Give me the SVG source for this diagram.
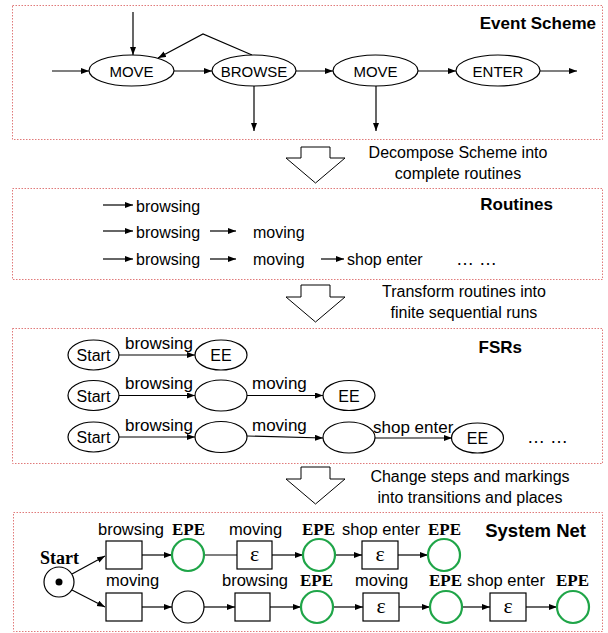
<svg xmlns="http://www.w3.org/2000/svg" width="608" height="633" viewBox="0 0 608 633">
  <defs>
    <marker id="ah" markerWidth="9" markerHeight="7" refX="8" refY="3" orient="auto" markerUnits="userSpaceOnUse">
      <path d="M0,0 L8,3 L0,6 z" fill="#000"/>
    </marker>
    <style>
      .frame { fill: none; stroke: #e07a7a; stroke-width: 1; stroke-dasharray: 1.5 1.5; }
      .node { fill: #fff; stroke: #000; stroke-width: 1.2; }
      .epe { fill: #fff; stroke: #1fa548; stroke-width: 2.2; }
      .edge { fill: none; stroke: #000; stroke-width: 1.2; marker-end: url(#ah); }
      .plain { fill: none; stroke: #000; stroke-width: 1.2; }
      .big { fill: #fff; stroke: #000; stroke-width: 1; }
      text { font-family: "Liberation Sans", Arial, sans-serif; fill: #000; }
      .title { font-size: 17px; font-weight: bold; text-anchor: end; }
      .lbl { font-size: 15px; text-anchor: middle; }
      .rt { font-size: 16px; }
      .fs { font-size: 17px; }
      .st { font-size: 16px; text-anchor: middle; }
      .sn { font-size: 16.5px; }
      .cap { font-size: 16px; text-anchor: middle; }
      .serif { font-family: "Liberation Serif", "Times New Roman", serif; font-weight: bold; font-size: 17px; }
      .eps { font-family: "Liberation Serif", "Times New Roman", serif; font-size: 22px; text-anchor: middle; }
    </style>
  </defs>

  <!-- section frames -->
  <rect class="frame" x="12.5" y="5.5" width="590" height="134"/>
  <rect class="frame" x="12.5" y="188.5" width="590" height="91"/>
  <rect class="frame" x="12.5" y="328.5" width="590" height="135"/>
  <rect class="frame" x="13.5" y="512.5" width="589" height="119"/>

  <!-- block arrows between sections -->
  <g id="step-arrows">
    <path class="big" d="M301,147 H330 V158 H345 L315.5,183 L286,158 H301 Z"/>
    <path class="big" d="M301,285 H330 V297 H345 L315.5,322 L286,297 H301 Z"/>
    <path class="big" d="M301,467 H330 V479 H345 L315.5,504 L286,479 H301 Z"/>
    <text class="cap" x="458" y="158">Decompose Scheme into</text>
    <text class="cap" x="458" y="179">complete routines</text>
    <text class="cap" x="464" y="297">Transform routines into</text>
    <text class="cap" x="464" y="318">finite sequential runs</text>
    <text class="cap" x="470" y="482">Change steps and markings</text>
    <text class="cap" x="470" y="503">into transitions and places</text>
  </g>

  <!-- Event Scheme -->
  <text class="title" x="596" y="29">Event Scheme</text>
  <g id="connectors-scheme">
    <line class="edge" x1="133" y1="12" x2="133" y2="55"/>
    <line class="edge" x1="52" y1="71" x2="89" y2="71"/>
    <line class="edge" x1="174" y1="71" x2="212" y2="71"/>
    <line class="edge" x1="296" y1="71" x2="333" y2="71"/>
    <line class="edge" x1="418" y1="71" x2="456" y2="71"/>
    <line class="edge" x1="540" y1="71" x2="577" y2="71"/>
    <polyline class="edge" points="252,55 203,34 158,58"/>
    <line class="edge" x1="254" y1="86" x2="254" y2="131"/>
    <line class="edge" x1="376" y1="86" x2="376" y2="131"/>
  </g>
  <g id="ev-move1"><ellipse class="node" cx="131.5" cy="70.5" rx="42.5" ry="15.5"/><text class="lbl" x="131.5" y="76.5">MOVE</text></g>
  <g id="ev-browse"><ellipse class="node" cx="254" cy="70.5" rx="42" ry="15.5"/><text class="lbl" x="254" y="76.5">BROWSE</text></g>
  <g id="ev-move2"><ellipse class="node" cx="375.5" cy="70.5" rx="42.5" ry="15.5"/><text class="lbl" x="375.5" y="76.5">MOVE</text></g>
  <g id="ev-enter"><ellipse class="node" cx="498" cy="70.5" rx="42" ry="15.5"/><text class="lbl" x="498" y="76.5">ENTER</text></g>

  <!-- Routines -->
  <text class="title" x="553" y="210">Routines</text>
  <g id="connectors-routines">
    <line class="edge" x1="103" y1="205" x2="133" y2="205"/>
    <line class="edge" x1="103" y1="231" x2="133" y2="231"/>
    <line class="edge" x1="210" y1="231" x2="236" y2="231"/>
    <line class="edge" x1="103" y1="259" x2="133" y2="259"/>
    <line class="edge" x1="210" y1="259" x2="236" y2="259"/>
    <line class="edge" x1="321" y1="259" x2="344" y2="259"/>
  </g>
  <g id="routine-texts">
    <text class="rt" x="136" y="212">browsing</text>
    <text class="rt" x="136" y="238">browsing</text>
    <text class="rt" x="253" y="238">moving</text>
    <text class="rt" x="136" y="265">browsing</text>
    <text class="rt" x="253" y="265">moving</text>
    <text class="rt" x="347" y="265">shop enter</text>
    <text class="rt" x="456" y="265" style="font-size:18px">… …</text>
  </g>

  <!-- FSRs -->
  <text class="title" x="522" y="353">FSRs</text>
  <g id="connectors-fsr">
    <line class="edge" x1="119" y1="355" x2="195" y2="355"/>
    <line class="edge" x1="119" y1="395.5" x2="195" y2="395.5"/>
    <line class="edge" x1="247" y1="395.5" x2="323" y2="395.5"/>
    <line class="edge" x1="119" y1="437" x2="195" y2="437"/>
    <line class="edge" x1="247" y1="436" x2="323" y2="438"/>
    <line class="edge" x1="375" y1="438" x2="452" y2="438"/>
    <text class="fs" x="125" y="349">browsing</text>
    <text class="fs" x="125" y="389">browsing</text>
    <text class="fs" x="252" y="389">moving</text>
    <text class="fs" x="125" y="431">browsing</text>
    <text class="fs" x="252" y="431">moving</text>
    <text class="fs" x="373" y="433">shop enter</text>
  </g>
  <g id="fsr1-start"><ellipse class="node" cx="93.5" cy="355" rx="25.5" ry="15"/><text class="st" x="93.5" y="361">Start</text></g>
  <g id="fsr1-ee"><ellipse class="node" cx="221" cy="355" rx="26" ry="15"/><text class="st" x="221" y="361">EE</text></g>
  <g id="fsr2-start"><ellipse class="node" cx="93.5" cy="395.5" rx="25.5" ry="15"/><text class="st" x="93.5" y="401.5">Start</text></g>
  <g id="fsr2-s1"><ellipse class="node" cx="221" cy="395.5" rx="26" ry="15.5"/></g>
  <g id="fsr2-ee"><ellipse class="node" cx="349" cy="395.5" rx="26" ry="15"/><text class="st" x="349" y="401.5">EE</text></g>
  <g id="fsr3-start"><ellipse class="node" cx="93.5" cy="437" rx="25.5" ry="15"/><text class="st" x="93.5" y="443">Start</text></g>
  <g id="fsr3-s1"><ellipse class="node" cx="221" cy="437" rx="26" ry="15.5"/></g>
  <g id="fsr3-s2"><ellipse class="node" cx="349" cy="437.5" rx="26" ry="15.5"/></g>
  <g id="fsr3-ee"><ellipse class="node" cx="477.5" cy="438" rx="26" ry="15"/><text class="st" x="477.5" y="444">EE</text></g>
  <text class="rt" x="527" y="443" style="font-size:18px">… …</text>

  <!-- System Net -->
  <text class="title" x="586" y="537" style="font-size:18.5px">System Net</text>
  <g id="connectors-net">
    <line class="edge" x1="72" y1="574" x2="105" y2="556"/>
    <line class="edge" x1="72" y1="590" x2="105" y2="607"/>
    <line class="edge" x1="142" y1="555" x2="172" y2="555"/>
    <line class="plain" x1="204" y1="555" x2="237" y2="555"/>
    <line class="edge" x1="272" y1="555" x2="303" y2="555"/>
    <line class="edge" x1="335" y1="555" x2="362" y2="555"/>
    <line class="edge" x1="398" y1="555" x2="428" y2="555"/>
    <line class="edge" x1="142" y1="607" x2="172" y2="607"/>
    <line class="edge" x1="204" y1="607" x2="235" y2="607"/>
    <line class="edge" x1="270" y1="607" x2="301" y2="607"/>
    <line class="edge" x1="333" y1="607" x2="363" y2="607"/>
    <line class="edge" x1="399" y1="607" x2="430" y2="607"/>
    <line class="edge" x1="462" y1="607" x2="490" y2="607"/>
    <line class="edge" x1="526" y1="607" x2="557" y2="607"/>
  </g>
  <g id="net-labels">
    <text class="sn" x="98" y="535">browsing</text>
    <text class="sn" x="229" y="535">moving</text>
    <text class="sn" x="342" y="535">shop enter</text>
    <text class="sn" x="106" y="586">moving</text>
    <text class="sn" x="222" y="586">browsing</text>
    <text class="sn" x="355" y="586">moving</text>
    <text class="sn" x="467" y="586">shop enter</text>
    <text class="serif" x="172" y="535">EPE</text>
    <text class="serif" x="302" y="535">EPE</text>
    <text class="serif" x="428" y="535">EPE</text>
    <text class="serif" x="300" y="586">EPE</text>
    <text class="serif" x="429" y="586">EPE</text>
    <text class="serif" x="556" y="586">EPE</text>
  </g>
  <g id="p-start">
    <text class="serif" x="40" y="564" style="font-size:18px">Start</text>
    <circle class="node" cx="59" cy="582" r="15"/>
    <circle cx="59" cy="582" r="3.5" fill="#000"/>
  </g>
  <g id="t-browse-a"><rect class="node" x="106" y="541" width="36" height="28"/></g>
  <g id="p-epe-a1"><circle class="epe" cx="188" cy="555" r="16"/></g>
  <g id="t-eps-a1"><rect class="node" x="237" y="541" width="35" height="28"/><text class="eps" x="254.5" y="561">ε</text></g>
  <g id="p-epe-a2"><circle class="epe" cx="319" cy="555" r="16"/></g>
  <g id="t-eps-a2"><rect class="node" x="362" y="541" width="36" height="28"/><text class="eps" x="380" y="561">ε</text></g>
  <g id="p-epe-a3"><circle class="epe" cx="444" cy="555" r="16"/></g>
  <g id="t-move-b"><rect class="node" x="106" y="593" width="36" height="28"/></g>
  <g id="p-b1"><circle class="node" cx="188" cy="607" r="16"/></g>
  <g id="t-browse-b"><rect class="node" x="235" y="593" width="35" height="28"/></g>
  <g id="p-epe-b1"><circle class="epe" cx="317" cy="607" r="16"/></g>
  <g id="t-eps-b1"><rect class="node" x="363" y="593" width="36" height="28"/><text class="eps" x="381" y="613">ε</text></g>
  <g id="p-epe-b2"><circle class="epe" cx="446" cy="607" r="16"/></g>
  <g id="t-eps-b2"><rect class="node" x="490" y="593" width="36" height="28"/><text class="eps" x="508" y="613">ε</text></g>
  <g id="p-epe-b3"><circle class="epe" cx="573" cy="607" r="16"/></g>
</svg>
